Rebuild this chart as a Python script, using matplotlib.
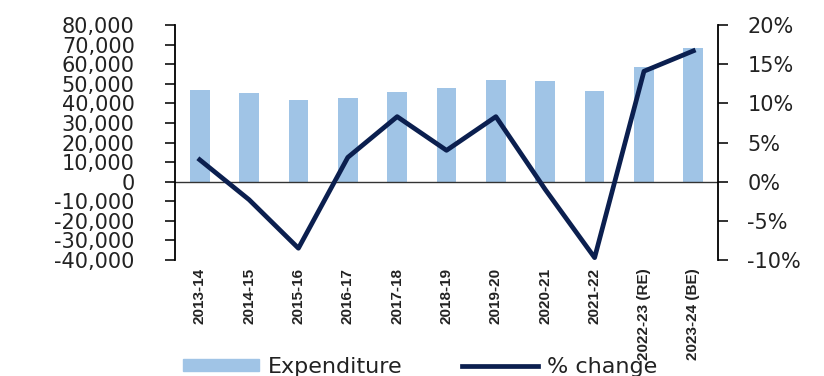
import numpy as np
import matplotlib.pyplot as plt
from matplotlib.ticker import FuncFormatter

years = ["2013-14", "2014-15", "2015-16", "2016-17", "2017-18", "2018-19",
         "2019-20", "2020-21", "2021-22", "2022-23 (RE)", "2023-24 (BE)"]
expenditure = [47000, 45500, 41800, 42800, 46000, 48000,
               52000, 51500, 46400, 58700, 68400]
pct_change = [2.8, -2.3, -8.5, 3.1, 8.3, 4.0, 8.3, -1.0, -9.7, 14.1, 16.7]

bar_color = "#A0C4E6"
line_color = "#0B1F4F"
text_color = "#222222"
plt.rcParams['font.family'] = ['DejaVu Sans']

fig = plt.figure(figsize=(8.24, 3.76), dpi=100)
ax = fig.add_axes([0.2124, 0.3085, 0.6590, 0.6250])
x = np.arange(len(years))

ax.bar(x, expenditure, width=0.4, color=bar_color, zorder=1)
ax.axhline(0, color="#333333", lw=1.0, zorder=2)
ax.set_xlim(-0.5, len(years) - 0.5)
ax.set_ylim(-40000, 80000)
ax.set_yticks(np.arange(-40000, 80001, 10000))
ax.yaxis.set_major_formatter(FuncFormatter(lambda v, p: f"{int(v):,}"))
ax.set_xticks(x)
ax.set_xticklabels(years, rotation=90, fontsize=11, color=text_color,
                   family=['Liberation Sans', 'DejaVu Sans'],
                   fontweight="bold")
ax.tick_params(axis="x", length=0, pad=6)
ax.tick_params(axis="y", direction="out", length=7, width=1.3,
               labelsize=15, colors=text_color, pad=22)
for s in ["top", "right", "bottom"]:
    ax.spines[s].set_visible(False)
ax.spines["left"].set_linewidth(1.3)

ax2 = ax.twinx()
ax2.plot(x, pct_change, color=line_color, lw=3.4, zorder=3)
ax2.set_ylim(-10, 20)
ax2.set_yticks(np.arange(-10, 21, 5))
ax2.yaxis.set_major_formatter(FuncFormatter(lambda v, p: f"{int(v)}%"))
ax2.tick_params(axis="y", direction="out", length=7, width=1.3,
                labelsize=15, colors=text_color, pad=14)
for s in ["top", "left", "bottom"]:
    ax2.spines[s].set_visible(False)
ax2.spines["right"].set_linewidth(1.3)

handles = [plt.Rectangle((0, 0), 1, 1, color=bar_color),
           plt.Line2D([0], [0], color=line_color, lw=3.4)]
fig.legend(handles, ["Expenditure", "% change"], loc="center",
           bbox_to_anchor=(0.51, 1 - 367 / 376), ncol=2, frameon=False,
           fontsize=16, handlelength=3.4, handleheight=0.45,
           handletextpad=0.4, columnspacing=2.7, labelcolor=text_color)

fig.savefig("out.png", dpi=100, facecolor="white")
